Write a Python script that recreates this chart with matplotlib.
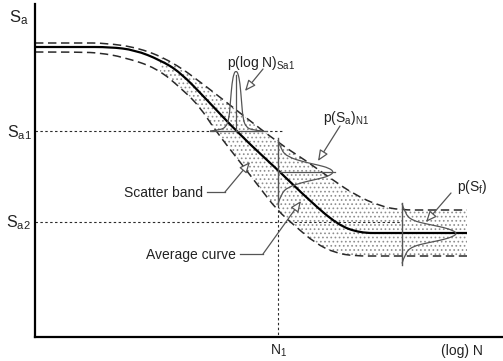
import matplotlib
matplotlib.use("Agg")
import matplotlib.pyplot as plt
from matplotlib.path import Path
from matplotlib.patches import PathPatch, Polygon, Rectangle

plt.rcParams['font.family'] = ['Liberation Sans', 'DejaVu Sans']
plt.rcParams['mathtext.fontset'] = 'custom'
plt.rcParams['mathtext.rm'] = 'Liberation Sans'
plt.rcParams['mathtext.it'] = 'Liberation Sans:italic'
plt.rcParams['mathtext.bf'] = 'Liberation Sans:bold'
plt.rcParams['hatch.linewidth'] = 0.7
plt.rcParams['hatch.color'] = '#8f8f8f'

# ---------------- data (schematic; x → log N, y → S, image units) ----
avg_x = [35, 80, 110, 135, 160, 180, 207, 240, 280, 310, 338, 360, 385, 467]
avg_y = [47, 47, 47, 50, 60, 72, 100, 135, 172, 201, 225, 233, 233, 233]

upper_x = [35, 80, 105, 140, 173, 207, 240, 280, 305, 330, 355, 380, 400, 430, 467]
upper_y = [43, 43, 43, 48, 62, 87, 113, 144, 160, 178, 195, 206, 210, 210, 210]

lower_x = [35, 80, 100, 123, 157, 183, 200, 215, 240, 260, 277, 295, 315, 335, 355, 380, 467]
lower_y = [52, 52, 53, 57, 68, 90, 107, 130, 162, 188, 210, 226, 243, 253, 256, 256, 256]

band_x_range = [160, 467]

sa1_level, sa2_level, n1_level = 131, 222, 278

# distribution half-profiles: (offset from centre, height above baseline)
logN_off = [26, 16, 10, 7, 5.5, 4, 2, 0]
logN_h = [0, 1, 4, 12, 30, 48, 58, 60]
logN_centre, logN_base = 236, 131

saN1_off = [32, 22, 15, 10, 7, 4, 0]
saN1_h = [0, 3, 10, 26, 40, 51, 56]
saN1_centre, saN1_base = 172, 278

sf_off = [30, 20, 13, 9, 6, 3, 0]
sf_h = [0, 3, 10, 27, 42, 51, 55]
sf_centre, sf_base = 233.5, 402

# --------------------------------------------------------------------------------------
def spline_path(xs, ys):
    pts = list(zip(xs, ys))
    verts = [pts[0]]
    codes = [Path.MOVETO]
    n = len(pts)
    for i in range(1, n - 1):
        if i == n - 2:
            end = pts[-1]
        else:
            end = ((pts[i][0] + pts[i + 1][0]) / 2, (pts[i][1] + pts[i + 1][1]) / 2)
        verts += [pts[i], end]
        codes += [Path.CURVE3, Path.CURVE3]
    return Path(verts, codes)


fig = plt.figure(figsize=(5.03, 3.61), dpi=100)
ax = fig.add_axes([35 / 503, 24 / 361, 468 / 503, 333 / 361])
ax.set_xlim(35, 503)
ax.set_ylim(337, 4)
for s in ['top', 'right']:
    ax.spines[s].set_visible(False)
for s in ['left', 'bottom']:
    ax.spines[s].set_linewidth(1.6)
    ax.spines[s].set_color('black')
ax.set_xticks([])
ax.set_yticks([])
ax.patch.set_alpha(0)

dark = '#2a2a2a'
gray = '#555555'

# scatter band shading
up_path = spline_path(upper_x, upper_y)
lo_path = spline_path(lower_x, lower_y)
up_poly = up_path.to_polygons(closed_only=False)[0]
lo_poly = lo_path.to_polygons(closed_only=False)[0]
band = list(map(tuple, up_poly)) + list(map(tuple, lo_poly[::-1]))
band_patch = Polygon(band, closed=True, fill=False, hatch='....', edgecolor='#8f8f8f',
                     linewidth=0)
ax.add_patch(band_patch)
clip = Rectangle((band_x_range[0], 0), band_x_range[1] - band_x_range[0], 400,
                 transform=ax.transData)
band_patch.set_clip_path(clip)

# reference dotted lines
dot = (0, (2.2, 2.2))
ax.plot([35, 283], [sa1_level, sa1_level], color=dark, lw=0.8, ls=dot)
ax.plot([35, sf_base], [sa2_level, sa2_level], color=dark, lw=0.8, ls=dot)
ax.plot([n1_level, n1_level], [205, 337], color=dark, lw=0.8, ls=dot)

# band edges and average curve
ax.add_patch(PathPatch(up_path, fill=False, ec=dark, lw=1.1, ls=(0, (5.5, 3))))
ax.add_patch(PathPatch(lo_path, fill=False, ec=dark, lw=1.1, ls=(0, (5.5, 3))))
ax.add_patch(PathPatch(spline_path(avg_x, avg_y), fill=False, ec='black', lw=1.6))


# distributions
def bell(off, h, centre, base, orient):
    offs = [-o for o in off] + [o for o in off[::-1][1:]]
    hs = list(h) + list(h[::-1][1:])
    if orient == 'up':
        xs = [centre + o for o in offs]
        ys = [base - v for v in hs]
    else:
        xs = [base + v for v in hs]
        ys = [centre + o for o in offs]
    return spline_path(xs, ys)


ax.add_patch(PathPatch(bell(logN_off, logN_h, logN_centre, logN_base, 'up'),
                       fill=False, ec=gray, lw=0.9))
ax.plot([210, 267], [logN_base, logN_base], color=gray, lw=0.9)
ax.plot([logN_centre, logN_centre], [logN_base, logN_base - 56], color=gray, lw=0.9)

ax.add_patch(PathPatch(bell(saN1_off, saN1_h, saN1_centre, saN1_base, 'right'),
                       fill=False, ec=gray, lw=0.9))
ax.plot([saN1_base, saN1_base], [138, 205], color=gray, lw=1.0)
ax.plot([saN1_base, 335], [saN1_centre, saN1_centre], color=gray, lw=0.9)

ax.add_patch(PathPatch(bell(sf_off, sf_h, sf_centre, sf_base, 'right'),
                       fill=False, ec=gray, lw=0.9))
ax.plot([sf_base, sf_base], [203, 265], color=gray, lw=1.0)

# arrows
ap = dict(arrowstyle='-|>,head_length=0.65,head_width=0.28', fc='white', ec=gray,
          lw=0.9, shrinkA=0, shrinkB=0)
ax.annotate('', xy=(245, 91), xytext=(263, 69), arrowprops=ap)
ax.annotate('', xy=(318, 161), xytext=(340, 126), arrowprops=ap)
ax.annotate('', xy=(426, 222), xytext=(451, 193), arrowprops=ap)
ax.plot([207, 225], [192, 192], color=gray, lw=0.9)
ax.annotate('', xy=(250, 162), xytext=(225, 192), arrowprops=ap)
ax.plot([240, 263], [254, 254], color=gray, lw=0.9)
ax.annotate('', xy=(301, 201), xytext=(263, 254), arrowprops=ap)

# texts
tc = '#222222'
ax.text(9, 22, r'S$_{\mathrm{a}}$', fontsize=12, color=tc, va='baseline', ha='left')
ax.text(32, 137, r'S$_{\mathrm{a1}}$', fontsize=11.5, color=tc, va='baseline', ha='right')
ax.text(31, 227, r'S$_{\mathrm{a2}}$', fontsize=11.5, color=tc, va='baseline', ha='right')
ax.text(279, 355, r'N$_{\mathrm{1}}$', fontsize=10, color=tc, va='baseline', ha='center')
ax.text(462, 355, '(log) N', fontsize=10, color=tc, va='baseline', ha='center')
ax.text(227, 67, r'p(log N)$_{\mathrm{Sa1}}$', fontsize=10, color=tc, va='baseline', ha='left')
ax.text(323, 122, r'p(S$_{\mathrm{a}}$)$_{\mathrm{N1}}$', fontsize=10, color=tc,
        va='baseline', ha='left')
ax.text(457, 191, r'p(S$_{\mathrm{f}}$)', fontsize=10, color=tc, va='baseline', ha='left')
ax.text(203, 197, 'Scatter band', fontsize=10, color=tc, va='baseline', ha='right')
ax.text(236, 259, 'Average curve', fontsize=10, color=tc, va='baseline', ha='right')

fig.savefig('out.png', dpi=100)
